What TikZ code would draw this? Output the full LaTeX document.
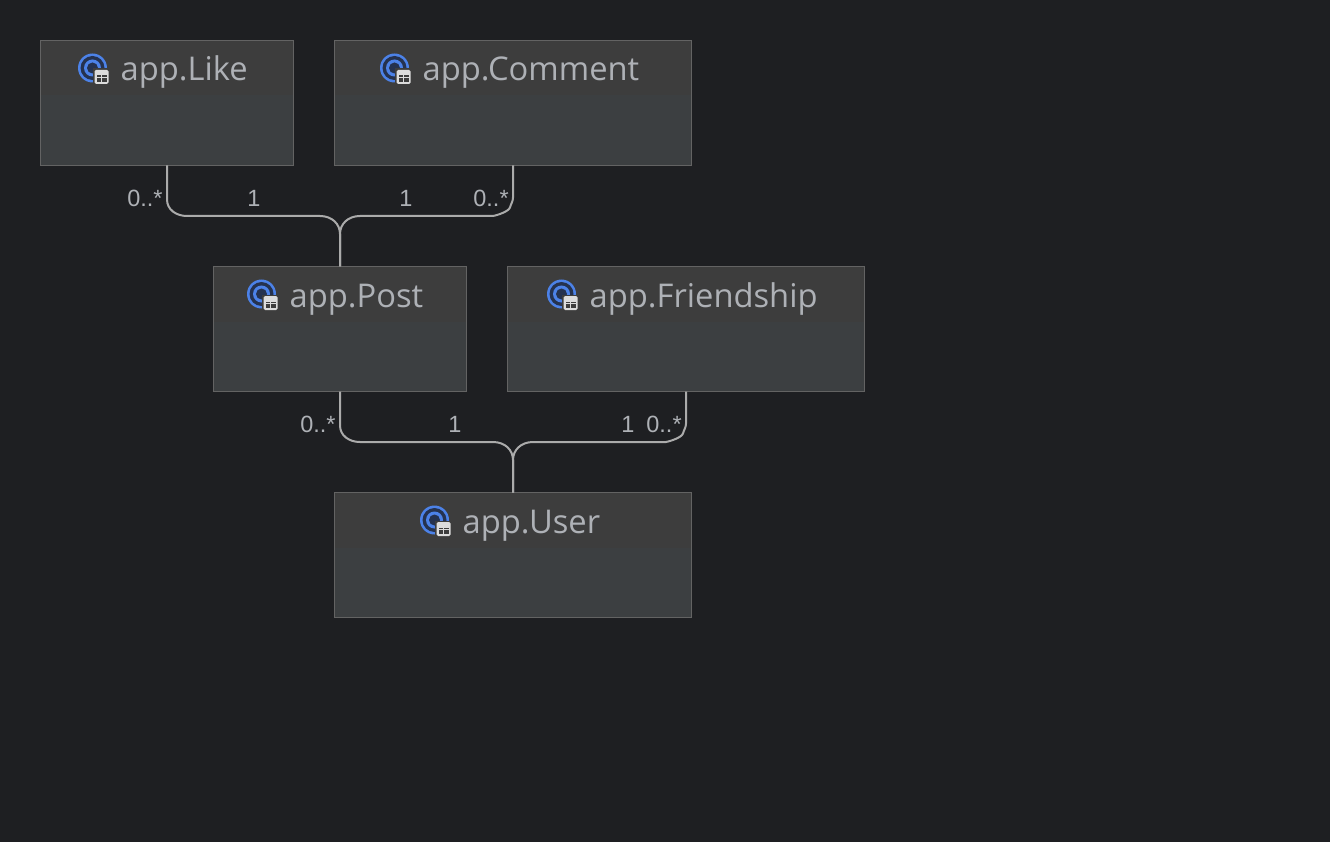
\documentclass[tikz,border=0pt]{standalone}
\usepackage{fontspec}
\setmainfont{Open Sans}
\newfontfamily\labelfont{Liberation Sans}
\definecolor{bg}{HTML}{1E1F22}
\definecolor{hdr}{HTML}{3D3D3D}
\definecolor{bodyc}{HTML}{3C3F41}
\definecolor{edge}{HTML}{636363}
\definecolor{txt}{HTML}{AEB1B6}
\definecolor{linec}{HTML}{ABABAB}
\definecolor{iconblue}{HTML}{4C82E8}
\definecolor{icondark}{HTML}{25324F}
\definecolor{icontab}{HTML}{DCDCDC}
\tikzset{
  entity/.style={draw=none,fill=none,minimum height=125pt,inner sep=0pt,outer sep=0pt},
  title/.style={text=txt,font=\fontsize{32.7}{36}\selectfont,inner sep=0pt,anchor=base west},
  conn/.style={draw=linec,line width=2pt},
  mult/.style={text=txt,font=\labelfont\fontsize{23.5}{26}\selectfont,inner sep=0pt},
  pics/tableicon/.style={code={
    \fill[iconblue] (0,0) circle (14.5pt);
    \fill[icondark] (0,0) circle (12pt);
    \fill[iconblue] (0,0) circle (8.5pt);
    \fill[icondark] (0,0) circle (5.5pt);
    \fill[hdr] (0.5,0.5) rectangle (17.5,17.5);
    \fill[icontab,rounded corners=1.5pt] (2,2) rectangle (16,16);
    \fill[hdr] (4,7.5) rectangle (8.4,9);
    \fill[hdr] (9.6,7.5) rectangle (14,9);
    \fill[hdr] (4,10.2) rectangle (8.4,14);
    \fill[hdr] (9.6,10.2) rectangle (14,14);
  }}
}
\newcommand{\entitybox}[6]{% name, cx, cy, width, title x, title
  \node[entity,minimum width=#4pt] (#1) at (#2,#3) {};
  \fill[bodyc] (#1.south west) rectangle (#1.north east);
  \fill[hdr] (#1.north west) rectangle ([yshift=-55pt]#1.north east);
  \draw[edge,line width=1pt] (#1.south west) rectangle (#1.north east);
  \pic at (#5-28,#3-35) {tableicon};
  \node[title] (#1t) at (#5,#3-22) {#6};
}
\begin{document}
\begin{tikzpicture}[x=1pt,y=-1pt]
\useasboundingbox (0,0) rectangle (1330,842);
\fill[bg] (0,0) rectangle (1330,842);
\entitybox{like}{167}{103}{253}{120.5}{app.Like}
\entitybox{comment}{513}{103}{357}{422.5}{app.Comment}
\entitybox{post}{340}{329}{253}{289.5}{app.Post}
\entitybox{friend}{686}{329}{357}{589.5}{app.Friendship}
\entitybox{user}{513}{555}{357}{462.5}{app.User}
\draw[conn,xshift=0.4pt] (like.south) -- ++(0,34) .. controls +(0,10) and +(-11,0) .. ++(20,16.5) -- ++(133,0) .. controls +(12,0) and +(0,-10) .. (post.north |- 0,234) -- (post.north);
\draw[conn,xshift=0.4pt] (comment.south) -- ++(0,32) .. controls +(0,4) and +(1,-4) .. ++(-3,10) .. controls +(-1.5,4) and +(5,-1) .. ++(-17,8.5) -- ++(-133,0) .. controls +(-12,0) and +(0,-10) .. (post.north |- 0,234) -- (post.north);
\draw[conn,xshift=0.4pt] (post.south) -- ++(0,34) .. controls +(0,10) and +(-11,0) .. ++(20,16.5) -- ++(133,0) .. controls +(12,0) and +(0,-10) .. (user.north |- 0,460) -- (user.north);
\draw[conn,xshift=0.4pt] (friend.south) -- ++(0,32) .. controls +(0,4) and +(1,-4) .. ++(-3,10) .. controls +(-1.5,4) and +(5,-1) .. ++(-17,8.5) -- ++(-133,0) .. controls +(-12,0) and +(0,-10) .. (user.north |- 0,460) -- (user.north);
\node[mult] (m1) at (145,198.5) {0..*};
\node[mult] (m2) at (254,198.5) {1};
\node[mult] (m3) at (406,198.5) {1};
\node[mult] (m4) at (491,198.5) {0..*};
\node[mult] (m5) at (318,424.5) {0..*};
\node[mult] (m6) at (455,424.5) {1};
\node[mult] (m7) at (628,424.5) {1};
\node[mult] (m8) at (664,424.5) {0..*};
\end{tikzpicture}
\end{document}
